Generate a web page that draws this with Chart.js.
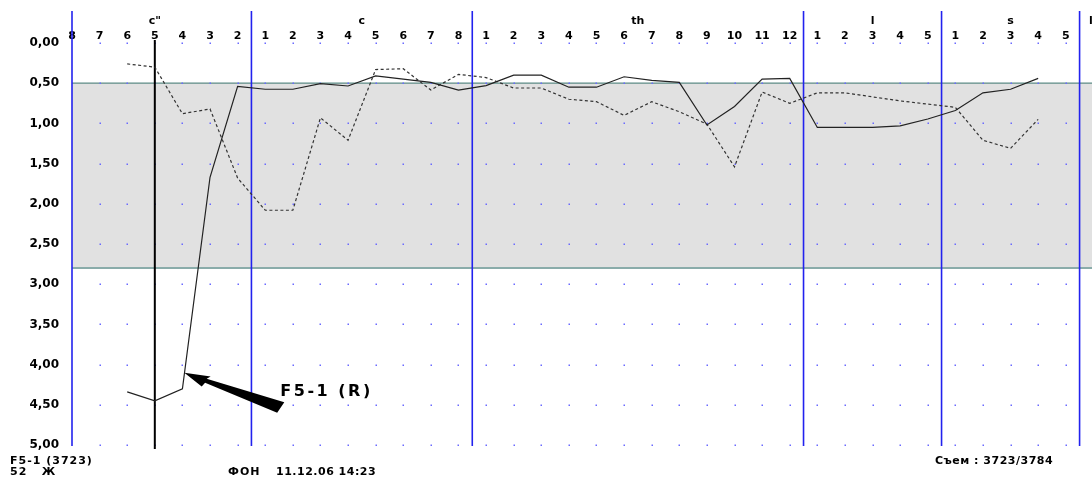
<!DOCTYPE html>
<html>
<head>
<meta charset="utf-8">
<script src="https://cdn.jsdelivr.net/npm/chart.js@4.4.0/dist/chart.umd.min.js"></script>
<style>
  html, body { margin: 0; padding: 0; background: #fff; }
  #wrap { width: 1092px; height: 477px; }
</style>
</head>
<body>
<div id="wrap"><canvas id="chart"></canvas></div>
<script>
// sections along the x axis and their tick labels
const sectionNames = ['c"', 'c', 'th', 'l', 's'];
const sectionTicks = [
  ['8', '7', '6', '5', '4', '3', '2'],
  ['1', '2', '3', '4', '5', '6', '7', '8'],
  ['1', '2', '3', '4', '5', '6', '7', '8', '9', '10', '11', '12'],
  ['1', '2', '3', '4', '5'],
  ['1', '2', '3', '4', '5']
];
const tickLabels = sectionTicks.flat();

// values (one per tick, null = no value)
const solidValues = [null, null, 4.34, 4.45, 4.30, 1.67, 0.54, 0.575, 0.575, 0.505, 0.535, 0.41, 0.45, 0.49, 0.585,
  0.53, 0.40, 0.40, 0.55, 0.55, 0.42, 0.465, 0.49, 1.02, 0.79, 0.45, 0.44,
  1.05, 1.05, 1.05, 1.03, 0.945,
  0.84, 0.62, 0.575, 0.44, null];
const dashedValues = [null, null, 0.26, 0.30, 0.88, 0.82, 1.68, 2.08, 2.08, 0.93, 1.21, 0.33, 0.32, 0.585, 0.39,
  0.43, 0.56, 0.56, 0.70, 0.73, 0.90, 0.73, 0.855, 1.01, 1.54, 0.61, 0.75,
  0.62, 0.62, 0.67, 0.72, 0.76,
  0.80, 1.21, 1.31, 0.95, null];

// normal range band and the marked tick
const bandLow = 0.5;
const bandHigh = 2.8;
const cursorIndex = 3;
const arrowIndex = 4.07;
const arrowValue = 4.1;
const arrowLabel = 'F5-1 (R)';

const FONT = '"DejaVu Sans", Arial, sans-serif';

function toPoints(values) {
  return values.map((v, i) => ({ x: i, y: v }));
}

function drawText(ctx, str, x, y, size, align, spacing) {
  ctx.save();
  ctx.font = 'bold ' + size + 'px ' + FONT;
  ctx.fillStyle = '#000';
  ctx.textAlign = align || 'left';
  ctx.textBaseline = 'middle';
  ctx.letterSpacing = (spacing || 0) + 'px';
  ctx.fillText(str, x, y);
  ctx.restore();
}

const backdrop = {
  id: 'backdrop',
  beforeDatasetsDraw(chart) {
    const { ctx, chartArea: a, scales: { x, y } } = chart;
    ctx.save();
    // grey normal band
    const yLow = y.getPixelForValue(bandLow);
    const yHigh = y.getPixelForValue(bandHigh);
    ctx.fillStyle = '#e1e1e1';
    ctx.fillRect(a.left, yLow, a.right - a.left, yHigh - yLow);
    ctx.strokeStyle = '#5d8b86';
    ctx.lineWidth = 1.2;
    ctx.beginPath(); ctx.moveTo(a.left, yLow); ctx.lineTo(a.right, yLow); ctx.stroke();
    ctx.strokeStyle = '#8aacaa';
    ctx.lineWidth = 2;
    ctx.beginPath(); ctx.moveTo(a.left, yHigh); ctx.lineTo(a.right, yHigh); ctx.stroke();

    // dotted grid
    ctx.fillStyle = '#6a6aff';
    for (let i = 1; i < tickLabels.length; i++) {
      const px = x.getPixelForValue(i);
      for (let v = 0; v <= 5; v += 0.5) {
        ctx.fillRect(Math.round(px) - 0.5, Math.round(y.getPixelForValue(v)) - 0.5, 1.5, 1.5);
      }
    }

    // section borders
    ctx.strokeStyle = '#2222ee';
    ctx.lineWidth = 1.6;
    const borders = [a.left];
    let n = 0;
    sectionTicks.forEach(s => { n += s.length; borders.push(x.getPixelForValue(n - 0.5)); });
    borders.forEach(px => {
      ctx.beginPath(); ctx.moveTo(px, 11); ctx.lineTo(px, a.bottom + 1); ctx.stroke();
    });

    // cursor line
    const cx = x.getPixelForValue(cursorIndex);
    ctx.strokeStyle = '#000';
    ctx.lineWidth = 2;
    ctx.beginPath(); ctx.moveTo(cx, 40); ctx.lineTo(cx, a.bottom + 4); ctx.stroke();
    ctx.restore();
  },
  afterDraw(chart) {
    const { ctx, chartArea: a, scales: { x, y } } = chart;

    // section names above the tick numbers
    let start = 0;
    sectionTicks.forEach((s, k) => {
      const mid = start + (s.length - 1) / 2;
      drawText(ctx, sectionNames[k], x.getPixelForValue(mid), 21, 11, 'center');
      start += s.length;
    });
    drawText(ctx, 'l', 1089, 21, 11, 'left');

    // arrow pointing at the marked point
    const tx = x.getPixelForValue(arrowIndex);
    const ty = y.getPixelForValue(arrowValue);
    const ang = Math.atan2(35, 96);
    const shape = [[0, 0], [26, -5.5], [23, -2], [104, -6.5], [101, 6], [23, 2.5], [21, 7]];
    ctx.save();
    ctx.translate(tx, ty);
    ctx.rotate(ang);
    ctx.fillStyle = '#000';
    ctx.beginPath();
    shape.forEach(([s, t], i) => (i ? ctx.lineTo(s, t) : ctx.moveTo(s, t)));
    ctx.closePath();
    ctx.fill();
    ctx.restore();
    drawText(ctx, arrowLabel, tx + 96, ty + 19, 16, 'left', 2.5);

    // footer
    drawText(ctx, 'F5-1 (3723)', 10, 461, 11, 'left', 1);
    drawText(ctx, '52   Ж', 10, 472, 11, 'left', 1);
    drawText(ctx, 'ФОН', 228, 472, 11, 'left', 1);
    drawText(ctx, '11.12.06 14:23', 276, 472, 11, 'left', 0.5);
    drawText(ctx, 'Съем : 3723/3784', 935, 461, 11, 'left', 0.5);
  }
};

new Chart(document.getElementById('chart'), {
  type: 'line',
  data: {
    datasets: [
      {
        label: 'solid',
        data: toPoints(solidValues),
        borderColor: '#222',
        borderWidth: 1.2,
        pointRadius: 0,
        tension: 0,
        spanGaps: false
      },
      {
        label: 'dashed',
        data: toPoints(dashedValues),
        borderColor: '#333',
        borderWidth: 1.2,
        borderDash: [3, 2.5],
        pointRadius: 0,
        tension: 0,
        spanGaps: false
      }
    ]
  },
  options: {
    responsive: true,
    maintainAspectRatio: false,
    animation: false,
    layout: { padding: { left: 0, right: 0, top: 0, bottom: 32 } },
    plugins: { legend: { display: false }, tooltip: { enabled: false } },
    scales: {
      x: {
        type: 'linear',
        position: 'top',
        min: 0,
        max: 36.95,
        grid: { display: false, drawTicks: false },
        border: { display: false },
        afterFit: s => { s.height = 43; },
        ticks: {
          stepSize: 1,
          autoSkip: false,
          maxRotation: 0,
          includeBounds: false,
          padding: 0,
          color: '#000',
          font: { family: FONT, size: 11, weight: 'bold' },
          callback: v => tickLabels[v] ?? ''
        }
      },
      y: {
        type: 'linear',
        reverse: true,
        min: 0,
        max: 5,
        grid: { display: false },
        border: { display: false },
        afterFit: s => { s.width = 72; },
        ticks: {
          stepSize: 0.5,
          padding: 5,
          color: '#000',
          font: { family: FONT, size: 12, weight: 'bold' },
          callback: v => v.toFixed(2).replace('.', ',')
        }
      }
    }
  },
  plugins: [backdrop]
});
</script>
</body>
</html>
